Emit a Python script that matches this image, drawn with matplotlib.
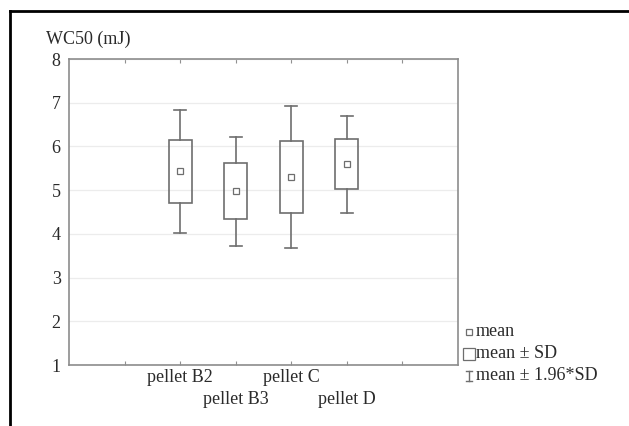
import matplotlib.pyplot as plt
from matplotlib.lines import Line2D
import matplotlib.transforms as mtransforms

plt.rcParams['font.family'] = ['Liberation Serif', 'DejaVu Serif']

# ---- data ----
groups = ['pellet B2', 'pellet B3', 'pellet C', 'pellet D']
means = [5.43, 4.97, 5.30, 5.59]
sds = [0.715, 0.64, 0.825, 0.57]
positions = [2, 3, 4, 5]

box_col = '#6e6e6e'
txt_col = '#2a2a2a'
fs = 13

fig = plt.figure(figsize=(6.29, 4.26), dpi=100)
ax = fig.add_axes([69 / 629, 1 - 365 / 426, (458 - 69) / 629, (365 - 59) / 426])

# boxes = mean +- SD, whiskers = mean +- 1.96*SD
w = 0.41
for x, m, s in zip(positions, means, sds):
    lo, hi = m - s, m + s
    wlo, whi = m - 1.96 * s, m + 1.96 * s
    ax.add_patch(plt.Rectangle((x - w / 2, lo), w, hi - lo, fill=False,
                               edgecolor=box_col, linewidth=1.2, zorder=3))
    ax.plot([x, x], [hi, whi], color=box_col, lw=1.2, zorder=3)
    ax.plot([x, x], [lo, wlo], color=box_col, lw=1.2, zorder=3)
    ax.plot([x - 0.11, x + 0.11], [whi, whi], color=box_col, lw=1.2, zorder=3)
    ax.plot([x - 0.11, x + 0.11], [wlo, wlo], color=box_col, lw=1.2, zorder=3)
    ax.plot([x], [m], marker='s', ms=4.5, mfc='white', mec=box_col, mew=0.9, zorder=4)

ax.set_xlim(0, 7)
ax.set_ylim(1, 8)
ax.set_yticks(range(1, 9))
ax.grid(axis='y', color='#ececec', lw=0.9, zorder=0)
ax.set_axisbelow(True)

# category labels staggered on two rows
ax.set_xticks([1, 2, 3, 4, 5, 6])
ax.set_xticklabels([])
ax.tick_params(axis='x', direction='in', length=3, top=True,
               color='#909090', width=0.8)
trans = mtransforms.blended_transform_factory(ax.transData, fig.transFigure)
for i, (x, g) in enumerate(zip(positions, groups)):
    y = 377 if i % 2 == 0 else 399
    ax.text(x, 1 - y / 426, g, transform=trans, fontsize=fs, color=txt_col,
            ha='center', va='center')
ax.tick_params(axis='y', length=0, pad=6, labelsize=fs, labelcolor=txt_col)

for sp in ax.spines.values():
    sp.set_color('#8c8c8c')
    sp.set_linewidth(1.2)

fig.text(46 / 629, 1 - 39 / 426, 'WC50 (mJ)', fontsize=fs, color=txt_col,
         va='center', ha='left')

# legend, drawn by hand outside the axes
leg_y = [332, 354, 376]
fig.add_artist(Line2D([469 / 629], [1 - leg_y[0] / 426], marker='s', ms=4,
                      mfc='white', mec=box_col, mew=0.9, transform=fig.transFigure))
fig.add_artist(Line2D([469 / 629], [1 - leg_y[1] / 426], marker='s', ms=9,
                      mfc='white', mec=box_col, mew=0.9, transform=fig.transFigure))
# I-beam symbol for the whisker entry
yb = 1 - leg_y[2] / 426
for dy in (-5, 5):
    fig.add_artist(Line2D([466 / 629, 472 / 629], [yb + dy / 426] * 2, color=box_col,
                          lw=1.0, transform=fig.transFigure))
fig.add_artist(Line2D([469 / 629, 469 / 629], [yb - 5 / 426, yb + 5 / 426],
                      color=box_col, lw=1.0, transform=fig.transFigure))
for y, lab in zip(leg_y, ['mean', 'mean ± SD', 'mean ± 1.96*SD']):
    fig.text(476 / 629, 1 - y / 426, lab, fontsize=fs, color=txt_col,
             ha='left', va='center')

# black frame on top and left of the picture
fig.add_artist(Line2D([10 / 629, 1], [1 - 11 / 426, 1 - 11 / 426], color='black',
                      lw=2, solid_capstyle='projecting', transform=fig.transFigure))
fig.add_artist(Line2D([10 / 629, 10 / 629], [0, 1 - 11 / 426], color='black',
                      lw=2, solid_capstyle='projecting', transform=fig.transFigure))

fig.savefig('out.png', dpi=100)
